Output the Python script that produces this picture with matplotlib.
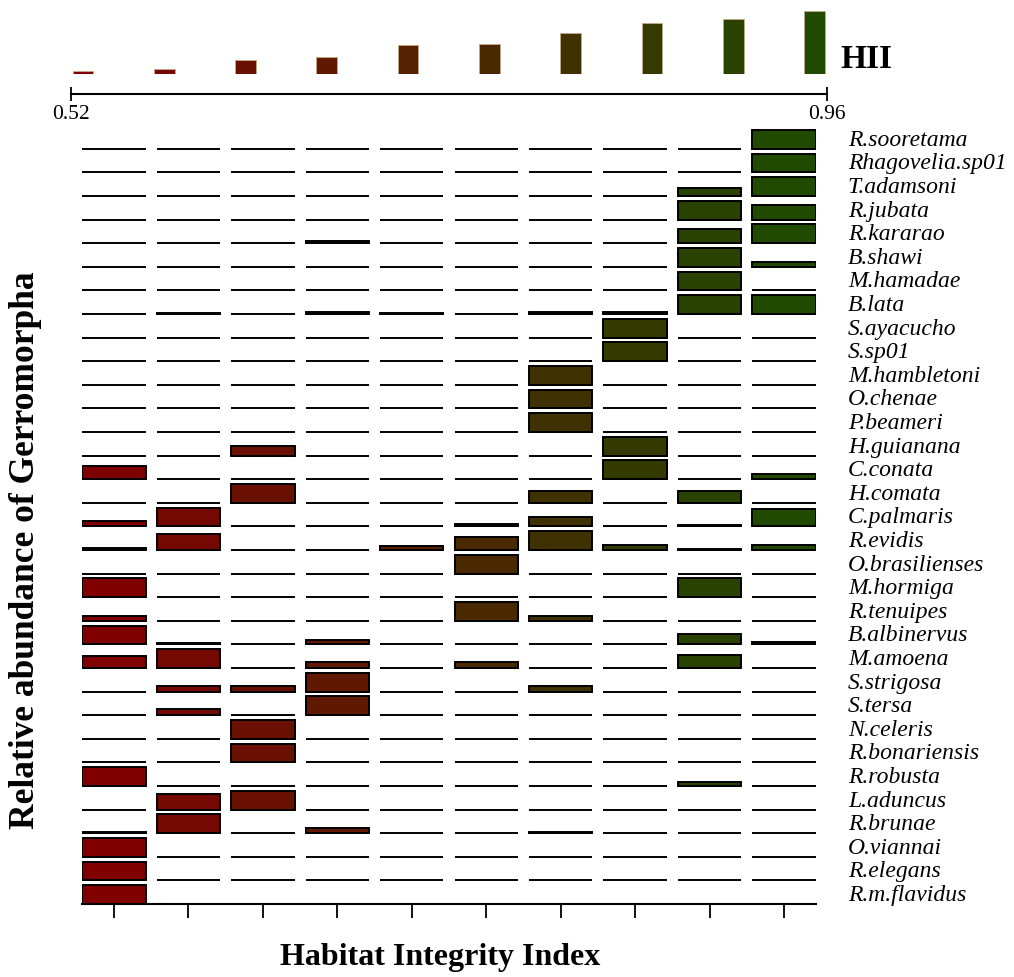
import matplotlib
matplotlib.use("Agg")
import matplotlib.pyplot as plt
import matplotlib.transforms as mtransforms
import numpy as np

plt.rcParams['font.family'] = ['Liberation Serif', 'DejaVu Serif']

# species, top to bottom
species = ["R.sooretama", "Rhagovelia.sp01", "T.adamsoni", "R.jubata", "R.kararao",
           "B.shawi", "M.hamadae", "B.lata", "S.ayacucho", "S.sp01",
           "M.hambletoni", "O.chenae", "P.beameri", "H.guianana", "C.conata",
           "H.comata", "C.palmaris", "R.evidis", "O.brasilienses", "M.hormiga",
           "R.tenuipes", "B.albinervus", "M.amoena", "S.strigosa", "S.tersa",
           "N.celeris", "R.bonariensis", "R.robusta", "L.aduncus", "R.brunae",
           "O.viannai", "R.elegans", "R.m.flavidus"]

# habitat integrity index of the 10 sites (ordered)
hii = [0.520, 0.535, 0.598, 0.625, 0.708, 0.720, 0.799, 0.870, 0.899, 0.960]

# relative abundance per site (same order as species)
site01 = [0, 0, 0, 0, 0, 0, 0, 0, 0, 0, 0, 0, 0, 0, 0.71, 0, 0.30, 0.12, 0, 1.0,
          0.23, 1.0, 0.66, 0, 0, 0, 0, 1.0, 0, 0.08, 1.0, 1.0, 1.0]
site02 = [0, 0, 0, 0, 0, 0, 0, 0.05, 0, 0, 0, 0, 0, 0, 0, 0, 1.0, 0.84, 0, 0,
          0, 0.10, 1.0, 0.32, 0.32, 0, 0, 0, 0.84, 1.0, 0, 0, 0]
site03 = [0, 0, 0, 0, 0, 0, 0, 0, 0, 0, 0, 0, 0, 0.50, 0, 1.0, 0, 0, 0, 0,
          0, 0, 0, 0.32, 0, 1.0, 1.0, 0, 1.0, 0, 0, 0, 0]
site04 = [0, 0, 0, 0, 0.10, 0, 0, 0.12, 0, 0, 0, 0, 0, 0, 0, 0, 0, 0, 0, 0,
          0, 0.25, 0.30, 1.0, 1.0, 0, 0, 0, 0, 0.30, 0, 0, 0]
site05 = [0, 0, 0, 0, 0, 0, 0, 0.08, 0, 0, 0, 0, 0, 0, 0, 0, 0, 0.20, 0, 0,
          0, 0, 0, 0, 0, 0, 0, 0, 0, 0, 0, 0, 0]
site06 = [0, 0, 0, 0, 0, 0, 0, 0, 0, 0, 0, 0, 0, 0, 0, 0, 0.12, 0.68, 1.0, 0,
          1.0, 0, 0.33, 0, 0, 0, 0, 0, 0, 0, 0, 0, 0]
site07 = [0, 0, 0, 0, 0, 0, 0, 0.10, 0, 0, 1.0, 1.0, 1.0, 0, 0, 0.64, 0.48, 1.0, 0, 0,
          0.25, 0, 0, 0.30, 0, 0, 0, 0, 0, 0.06, 0, 0, 0]
site08 = [0, 0, 0, 0, 0, 0, 0, 0.12, 1.0, 1.0, 0, 0, 0, 1.0, 1.0, 0, 0, 0.25, 0, 0,
          0, 0, 0, 0, 0, 0, 0, 0, 0, 0, 0, 0, 0]
site09 = [0, 0, 0.43, 1.0, 0.75, 1.0, 1.0, 1.0, 0, 0, 0, 0, 0, 0, 0, 0.64, 0.08, 0.08, 0, 1.0,
          0, 0.55, 0.70, 0, 0, 0, 0, 0.20, 0, 0, 0, 0, 0]
site10 = [1.0, 1.0, 1.0, 0.77, 1.0, 0.25, 0, 1.0, 0, 0, 0, 0, 0, 0, 0.30, 0, 0.91, 0.25, 0, 0,
          0, 0.12, 0, 0, 0, 0, 0, 0, 0, 0, 0, 0, 0]
sites = [site01, site02, site03, site04, site05, site06, site07, site08, site09, site10]

# colour ramp red -> green
red = np.array([0x80, 0x00, 0x00]) / 255
green = np.array([0x1f, 0x4a, 0x00]) / 255
colors = [tuple(red + (green - red) * t) for t in np.linspace(0, 1, len(sites))]

W, H = 1014, 977
fig = plt.figure(figsize=(W / 100, H / 100), dpi=100)

### MAIN PANEL ###
bw = 0.85
ax = fig.add_axes([82.4 / W, (H - 904) / H, 733.2 / W, 776.4 / H])
n = len(species)
for j, (vals, c) in enumerate(zip(sites, colors)):
    x = j + 1
    for i, v in enumerate(vals):
        y = n - 1 - i
        ax.hlines(y, x - bw / 2, x + bw / 2, color="black", lw=1.4, zorder=2)
        if v > 0:
            ax.bar(x, v * 0.8, bottom=y, width=bw, color=c, edgecolor="black",
                   linewidth=1.4, zorder=3)

ax.set_xlim(1 - bw / 2, len(sites) + bw / 2)
ax.set_ylim(0, n - 1 + 0.9)
for s in ["left", "right", "top"]:
    ax.spines[s].set_visible(False)
ax.spines["bottom"].set_linewidth(1.5)
ax.set_yticks([])
ax.set_xticks(range(1, len(sites) + 1))
ax.set_xticklabels([])
ax.tick_params(axis="x", direction="out", length=10, width=1.3)

# species labels on the right
trans = mtransforms.blended_transform_factory(ax.transAxes, ax.transData)
for i, name in enumerate(species):
    ax.text(1.044, n - 1 - i + 0.36, name, transform=trans, ha="left", va="center",
            fontsize=17, style="italic")

fig.text(440 / W, 1 - 958 / H, "Habitat Integrity Index", ha="center", va="center",
         fontsize=23, fontweight="bold")
fig.text(26 / W, 1 - 550 / H, "Relative abundance of Gerromorpha", ha="center",
         va="center", rotation=90, fontsize=25.5, fontweight="bold")

### TOP PANEL (HII) ###
x0, x1 = 0.852, 10.154
axt = fig.add_axes([71 / W, (H - 74) / H, 756 / W, 66 / H])
base = 0.498
axt.bar(np.arange(1, len(hii) + 1), np.array(hii) - base, bottom=base, width=0.255,
        color=colors, edgecolor="#c8a888", linewidth=0.6)
axt.set_xlim(x0, x1)
axt.set_ylim(base, base + 66 / (60 / 0.44))
for s in ["left", "right", "top"]:
    axt.spines[s].set_visible(False)
axt.spines["bottom"].set_position(("outward", 14.4))
axt.spines["bottom"].set_linewidth(1.5)
axt.set_yticks([])
axt.set_xticks([x0, x1])
axt.set_xticklabels(["0.52", "0.96"], fontsize=15.5)
axt.tick_params(axis="x", direction="inout", length=10, width=1.3, pad=3)

fig.text(840 / W, 1 - 59 / H, "HII", ha="left", va="center", fontsize=24,
         fontweight="bold")

fig.savefig("out.png", dpi=100)
